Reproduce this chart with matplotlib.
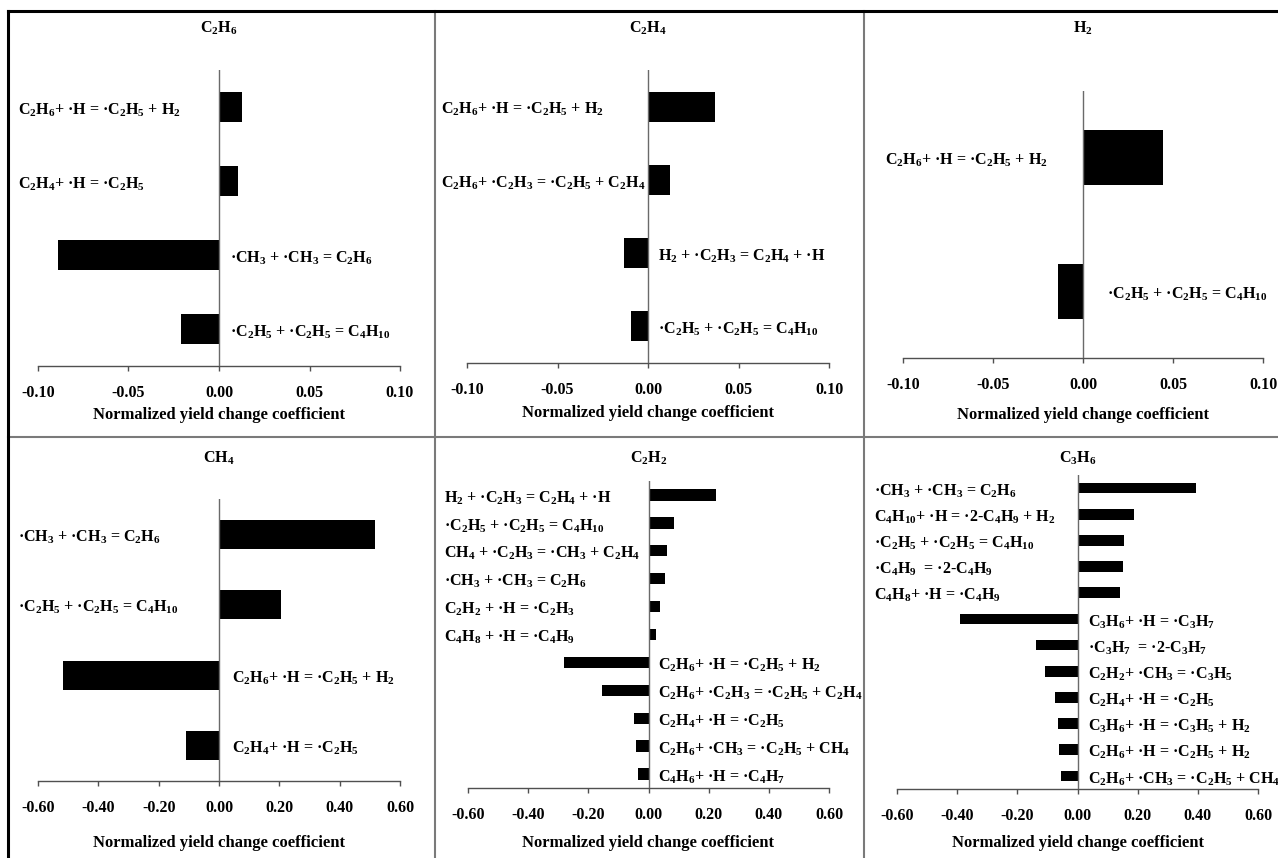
import re
import matplotlib
matplotlib.use("Agg")
import matplotlib.pyplot as plt
from matplotlib.lines import Line2D
from matplotlib.transforms import blended_transform_factory

plt.rcParams.update({
    'font.family': ['Liberation Serif', 'DejaVu Serif'],
    'font.weight': 'bold',
    'mathtext.fontset': 'custom',
    'mathtext.rm': 'Liberation Serif:bold',
    'mathtext.it': 'Liberation Serif:bold',
    'mathtext.bf': 'Liberation Serif:bold',
    'mathtext.sf': 'Liberation Serif:bold',
})

# ---------------- data ----------------
xlabel_text = "Normalized yield change coefficient"

ticks_small = [-0.10, -0.05, 0.00, 0.05, 0.10]
ticks_large = [-0.60, -0.40, -0.20, 0.00, 0.20, 0.40, 0.60]

title_c2h6 = "C2H6"
labels_c2h6 = ["C2H6+ ·H = ·C2H5 + H2", "C2H4+ ·H = ·C2H5",
               "·CH3 + ·CH3 = C2H6", "·C2H5 + ·C2H5 = C4H10"]
values_c2h6 = [0.0127, 0.0103, -0.089, -0.021]

title_c2h4 = "C2H4"
labels_c2h4 = ["C2H6+ ·H = ·C2H5 + H2", "C2H6+ ·C2H3 = ·C2H5 + C2H4",
               "H2 + ·C2H3 = C2H4 + ·H", "·C2H5 + ·C2H5 = C4H10"]
values_c2h4 = [0.0372, 0.0120, -0.0133, -0.0094]

title_h2 = "H2"
labels_h2 = ["C2H6+ ·H = ·C2H5 + H2", "·C2H5 + ·C2H5 = C4H10"]
values_h2 = [0.0445, -0.0139]

title_ch4 = "CH4"
labels_ch4 = ["·CH3 + ·CH3 = C2H6", "·C2H5 + ·C2H5 = C4H10",
              "C2H6+ ·H = ·C2H5 + H2", "C2H4+ ·H = ·C2H5"]
values_ch4 = [0.518, 0.205, -0.517, -0.111]

title_c2h2 = "C2H2"
labels_c2h2 = ["H2 + ·C2H3 = C2H4 + ·H", "·C2H5 + ·C2H5 = C4H10",
               "CH4 + ·C2H3 = ·CH3 + C2H4", "·CH3 + ·CH3 = C2H6",
               "C2H2 + ·H = ·C2H3", "C4H8 + ·H = ·C4H9",
               "C2H6+ ·H = ·C2H5 + H2", "C2H6+ ·C2H3 = ·C2H5 + C2H4",
               "C2H4+ ·H = ·C2H5", "C2H6+ ·CH3 = ·C2H5 + CH4",
               "C4H6+ ·H = ·C4H7"]
values_c2h2 = [0.223, 0.086, 0.063, 0.055, 0.039, 0.024,
               -0.282, -0.155, -0.048, -0.042, -0.034]

title_c3h6 = "C3H6"
labels_c3h6 = ["·CH3 + ·CH3 = C2H6", "C4H10+ ·H = ·2-C4H9 + H2",
               "·C2H5 + ·C2H5 = C4H10", "·C4H9  = ·2-C4H9",
               "C4H8+ ·H = ·C4H9", "C3H6+ ·H = ·C3H7",
               "·C3H7  = ·2-C3H7", "C2H2+ ·CH3 = ·C3H5",
               "C2H4+ ·H = ·C2H5", "C3H6+ ·H = ·C3H5 + H2",
               "C2H6+ ·H = ·C2H5 + H2", "C2H6+ ·CH3 = ·C2H5 + CH4"]
values_c3h6 = [0.394, 0.188, 0.156, 0.150, 0.142,
               -0.390, -0.139, -0.108, -0.075, -0.065, -0.061, -0.054]


def chem(s):
    return re.sub(r'([A-Za-z])(\d+)', r'\1$_{\2}$', s)


W, H = 1278, 858
fig = plt.figure(figsize=(W / 100, H / 100), dpi=100)
fig.patch.set_facecolor('white')


def rect(l, r, t, b):
    return [l / W, 1 - b / H, (r - l) / W, (b - t) / H]


px = 72 / 100.0  # points per pixel
LABEL_FS = 11.5

panels = [
    (title_c2h6, labels_c2h6, values_c2h6, ticks_small, rect(38, 400, 70, 366), 28, 415, 11, 20),
    (title_c2h4, labels_c2h4, values_c2h4, ticks_small, rect(467, 829, 70, 363), 28, 413, 10, 26),
    (title_h2, labels_h2, values_h2, ticks_small, rect(903, 1263, 91, 358), 28, 415, 24, 18),
    (title_ch4, labels_ch4, values_ch4, ticks_large, rect(38, 400, 499, 781), 458, 843, 13, 20),
    (title_c2h2, labels_c2h2, values_c2h2, ticks_large, rect(468, 829, 481, 788), 458, 843, 9, 24),
    (title_c3h6, labels_c3h6, values_c3h6, ticks_large, rect(897, 1258, 475, 789), 458, 843, 10, 23),
]

for title, labels, values, ticks, r, ty, xly, neg_off, pos_off in panels:
    ax = fig.add_axes(r)
    n = len(values)
    pos = list(range(n))
    ax.barh(pos, values, height=0.41, color='black', edgecolor='black', linewidth=0)
    ax.set_xlim(ticks[0], ticks[-1])
    ax.set_ylim(n - 0.5, -0.5)
    ax.axvline(0, color='#6a6a6a', lw=1.0, zorder=3)
    for s in ['top', 'right', 'left']:
        ax.spines[s].set_visible(False)
    ax.spines['bottom'].set_color('#505050')
    ax.spines['bottom'].set_linewidth(1.0)
    ax.set_yticks([])
    ax.set_xticks(ticks)
    ax.set_xticklabels([f"{t:.2f}" for t in ticks])
    ax.tick_params(axis='x', direction='out', length=3.6, width=1.0, color='#505050',
                   pad=10, labelsize=11.5)
    ax.set_facecolor('none')

    blend_fig_y = blended_transform_factory(ax.transAxes, fig.transFigure)
    ax.text(0.5, 1 - ty / H, chem(title), transform=blend_fig_y, ha='center',
            va='center', fontsize=11.5, fontweight='bold')
    ax.set_xlabel(xlabel_text, fontsize=12, fontweight='bold')
    ax.xaxis.set_label_coords(0.5, 1 - xly / H, transform=blend_fig_y)
    ax.xaxis.label.set_va('center')

    left_y = blended_transform_factory(ax.transAxes, ax.transData)
    for i, (lab, v) in enumerate(zip(labels, values)):
        if v >= 0:
            ax.annotate(chem(lab), xy=(0, i), xycoords=left_y,
                        xytext=(-pos_off * px, -3 * px), textcoords='offset points',
                        ha='left', va='center', fontsize=LABEL_FS, fontweight='bold',
                        annotation_clip=False)
        else:
            ax.annotate(chem(lab), xy=(0, i), xycoords='data',
                        xytext=(neg_off * px, -3 * px), textcoords='offset points',
                        ha='left', va='center', fontsize=LABEL_FS, fontweight='bold',
                        annotation_clip=False)

# panel dividers and outer frame
grey = '#7a7a7a'
fig.add_artist(Line2D([435 / W, 435 / W], [0, 1 - 11 / H], transform=fig.transFigure,
                      color=grey, lw=1.5))
fig.add_artist(Line2D([864 / W, 864 / W], [0, 1 - 11 / H], transform=fig.transFigure,
                      color=grey, lw=1.5))
fig.add_artist(Line2D([8 / W, 1], [1 - 437 / H, 1 - 437 / H], transform=fig.transFigure,
                      color=grey, lw=1.5))
fig.add_artist(Line2D([8 / W, 1], [1 - 11 / H, 1 - 11 / H], transform=fig.transFigure,
                      color='black', lw=2.2))
fig.add_artist(Line2D([8 / W, 8 / W], [0, 1 - 11 / H], transform=fig.transFigure,
                      color='black', lw=2.2))

fig.savefig("out.png", dpi=100, facecolor='white')
